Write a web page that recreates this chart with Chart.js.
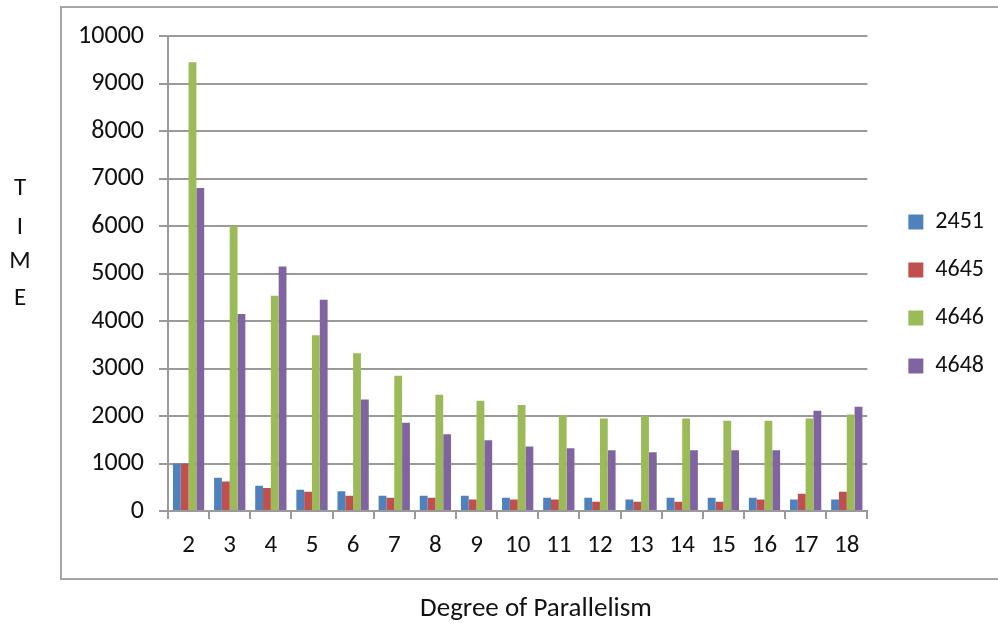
<!DOCTYPE html>
<html>
<head>
<meta charset="utf-8">
<script src="https://cdn.jsdelivr.net/npm/chart.js@4/dist/chart.umd.min.js"></script>
<style>
  html, body { margin: 0; padding: 0; background: #fff; }
  #wrap { position: relative; width: 998px; height: 626px; overflow: hidden; font-family: Carlito, "Liberation Sans", Arial, sans-serif; }
  #frame { position: absolute; left: 60px; top: 6px; width: 1000px; height: 570px; border: 2px solid #a6a6a6; }
  #chart { position: absolute; left: 0; top: 0; }
  .ytitle { position: absolute; left: 8px; width: 24px; text-align: center; font-size: 25px; color: #111; line-height: 1; }
  #xtitle { position: absolute; left: 336px; width: 400px; top: 593px; text-align: center; font-size: 27px; color: #111; line-height: 1; }
</style>
</head>
<body>
<div id="wrap">
  <div id="frame"></div>
  <canvas id="chart" width="998" height="626"></canvas>
  <div class="ytitle" style="top:174px">T</div>
  <div class="ytitle" style="top:213px">I</div>
  <div class="ytitle" style="top:247px">M</div>
  <div class="ytitle" style="top:284px">E</div>
  <div id="xtitle">Degree of Parallelism</div>
</div>
<script>
// --- DADOS ---
const categorias = ['2', '3', '4', '5', '6', '7', '8', '9', '10', '11', '12', '13', '14', '15', '16', '17', '18'];
const serieNomes = ['2451', '4645', '4646', '4648'];
const s2451 = [1000, 700, 530, 450, 415, 320, 320, 320, 280, 280, 280, 240, 280, 280, 280, 240, 240];
const s4645 = [1000, 620, 485, 405, 320, 280, 280, 240, 240, 240, 195, 195, 195, 195, 240, 365, 405];
const s4646 = [9450, 6000, 4530, 3700, 3320, 2850, 2450, 2320, 2230, 2020, 1950, 2005, 1945, 1900, 1900, 1945, 2030];
const s4648 = [6800, 4150, 5150, 4450, 2350, 1860, 1615, 1490, 1360, 1320, 1280, 1235, 1280, 1280, 1280, 2110, 2195];
const yTicks = [0, 1000, 2000, 3000, 4000, 5000, 6000, 7000, 8000, 9000, 10000];

const cores = ['#4F81BD', '#C0504D', '#9BBB59', '#8064A2'];
const FONT = 'Carlito, "Liberation Sans", Arial, sans-serif';
const GRID = '#9a9a9a';

// ajusta a posição da legenda (o Chart.js não deixa fixar isso direto)
const legendShift = {
    id: 'legendShift',
    afterLayout(chart) {
        const lg = chart.legend;
        lg.left += 17; lg.right += 17;
        lg.top -= 37; lg.bottom -= 37;
    }
};

const ctx = document.getElementById('chart').getContext('2d');
new Chart(ctx, {
    type: 'bar',
    data: {
        labels: categorias,
        datasets: [s2451, s4645, s4646, s4648].map((d, i) => ({
            label: serieNomes[i],
            data: d,
            backgroundColor: cores[i],
            borderWidth: 0,
            categoryPercentage: 0.76,
            barPercentage: 1
        }))
    },
    options: {
        responsive: false,
        animation: false,
        layout: { padding: { top: 36, right: 21, left: 0, bottom: 0 } },
        plugins: {
            title: { display: false },
            tooltip: { enabled: false },
            legend: {
                position: 'right',
                labels: {
                    boxWidth: 15, boxHeight: 15, padding: 24,
                    color: '#111',
                    font: { family: FONT, size: 24 }
                }
            }
        },
        scales: {
            x: {
                afterFit(scale) { scale.height = 115; },
                grid: { drawOnChartArea: false, drawTicks: true, tickLength: 8, color: GRID, lineWidth: 2 },
                border: { color: GRID, width: 2 },
                ticks: { padding: 12, color: '#111', font: { family: FONT, size: 25 }, maxRotation: 0 }
            },
            y: {
                min: 0, max: 10000,
                afterFit(scale) { scale.width = 168; },
                afterBuildTicks(scale) { scale.ticks = yTicks.map(v => ({ value: v })); },
                grid: { color: GRID, lineWidth: 2, tickLength: 9 },
                border: { color: GRID, width: 2 },
                ticks: { padding: 15, color: '#111', font: { family: FONT, size: 26 }, callback: v => String(v) }
            }
        }
    },
    plugins: [legendShift]
});
</script>
</body>
</html>
